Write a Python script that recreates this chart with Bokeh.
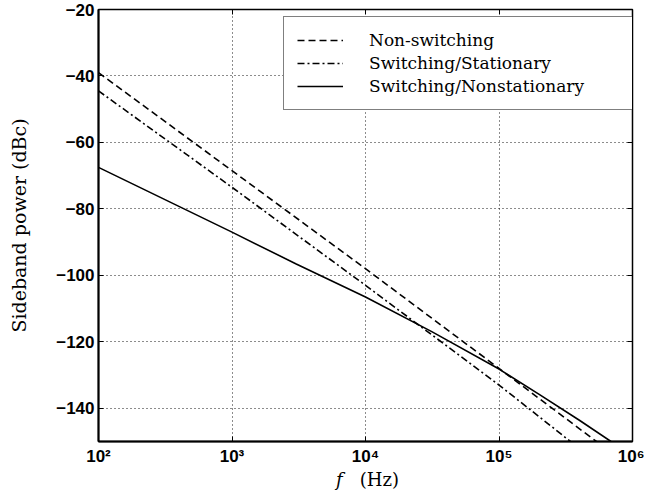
from bokeh.plotting import figure
from bokeh.layouts import column
from bokeh.models import (FixedTicker, LinearAxis, LogAxis, Legend, LegendItem,
                          CustomJSTickFormatter, Range1d, Div)
from bokeh.embed import file_html
from bokeh.resources import INLINE

# ---- data ----
freq_nonswitching = [1e2, 1e3, 1e4, 1e5, 5.37e5]
power_nonswitching = [-39.0, -68.5, -98.0, -128.0, -150.0]

freq_stationary = [1e2, 1e3, 1e4, 1e5, 3.43e5]
power_stationary = [-44.5, -73.5, -103.0, -133.0, -150.0]

freq_nonstationary = [1e2, 1e3, 3e3, 1e4, 3.16e4, 1e5, 2e5, 4e5, 6.9e5]
power_nonstationary = [-67.5, -87.0, -96.5, -106.5, -117.0, -128.2, -135.8, -143.6, -150.0]

x_ticks = [1e2, 1e3, 1e4, 1e5, 1e6]
y_ticks = [-140, -120, -100, -80, -60, -40, -20]

series_labels = ["Non-switching", "Switching/Stationary", "Switching/Nonstationary"]

p = figure(width=644, height=470, x_axis_type="log",
           x_range=Range1d(1e2, 1e6), y_range=Range1d(-150, -20),
           output_backend="svg", toolbar_location=None,
           min_border_left=98, min_border_right=12, min_border_top=9,
           min_border_bottom=29, margin=0)
p.background_fill_color = "white"
p.border_fill_color = "white"
p.outline_line_color = "black"
p.outline_line_width = 1.5

r1 = p.line(freq_nonswitching, power_nonswitching, line_color="black",
            line_width=1.6, line_dash="7 4")
r2 = p.line(freq_stationary, power_stationary, line_color="black",
            line_width=1.6, line_dash="7 3 2 3")
r3 = p.line(freq_nonstationary, power_nonstationary, line_color="black",
            line_width=1.6)

sup_js = """
const sup = {"0":"\u2070","1":"\u00b9","2":"\u00b2","3":"\u00b3","4":"\u2074",
             "5":"\u2075","6":"\u2076","7":"\u2077","8":"\u2078","9":"\u2079"};
const e = Math.round(Math.log10(tick));
return "10" + String(e).split("").map(c => sup[c]).join("");
"""

xa = p.xaxis[0]
xa.ticker = FixedTicker(ticks=x_ticks)
xa.formatter = CustomJSTickFormatter(code=sup_js)
ya = p.yaxis[0]
ya.ticker = FixedTicker(ticks=y_ticks)

for ax in (xa, ya):
    ax.major_tick_in = 5
    ax.major_tick_out = 0
    ax.minor_tick_line_color = None
    ax.axis_line_width = 2
    ax.axis_line_color = "black"
    ax.major_tick_line_color = "black"
    ax.major_label_text_font = "Liberation Sans"
    ax.major_label_text_font_style = "bold"
    ax.major_label_text_font_size = "17px"
    ax.major_label_text_color = "black"

ya.major_label_standoff = 4
xa.major_label_standoff = 5
ya.axis_label = "Sideband power (dBc)"
ya.axis_label_text_font = "DejaVu Serif"
ya.axis_label_text_font_style = "normal"
ya.axis_label_text_font_size = "19px"
ya.axis_label_text_color = "black"
ya.axis_label_standoff = 23

# box ticks on top and right
top = LogAxis(ticker=FixedTicker(ticks=x_ticks), formatter=CustomJSTickFormatter(code="return '';"),
              major_tick_in=5, major_tick_out=0, minor_tick_line_color=None,
              axis_line_color=None, major_label_standoff=0,
              major_label_text_font_size="0px")
right = LinearAxis(ticker=FixedTicker(ticks=y_ticks), formatter=CustomJSTickFormatter(code="return '';"),
                   major_tick_in=5, major_tick_out=0, minor_tick_line_color=None,
                   axis_line_color=None, major_label_standoff=0,
                   major_label_text_font_size="0px")
p.add_layout(top, "above")
p.add_layout(right, "right")

for g, t in ((p.xgrid[0], x_ticks), (p.ygrid[0], y_ticks)):
    g.ticker = FixedTicker(ticks=t)
    g.grid_line_color = "black"
    g.grid_line_dash = "1 3"
    g.grid_line_width = 1
    g.grid_line_alpha = 0.9

legend = Legend(items=[LegendItem(label=series_labels[0], renderers=[r1]),
                       LegendItem(label=series_labels[1], renderers=[r2]),
                       LegendItem(label=series_labels[2], renderers=[r3])],
                location=(185, 331), margin=0, padding=13, spacing=3,
                label_height=20, glyph_height=20, glyph_width=46,
                label_standoff=26, label_width=251,
                label_text_font="DejaVu Serif", label_text_font_size="17px",
                label_text_color="black",
                border_line_color="black", border_line_width=1.5,
                background_fill_color="white", background_fill_alpha=1.0)
p.add_layout(legend)

# x-axis label: italic f + (Hz)
xlabel = Div(text="<i>f</i>&nbsp;&nbsp;&nbsp;(Hz)", width=644, height=24, margin=0,
             styles={"font-family": "DejaVu Serif", "font-size": "18px",
                     "line-height": "18px", "padding-left": "336px",
                     "padding-top": "1px", "color": "black",
                     "background-color": "white"})

layout = column(p, xlabel, spacing=0)

open("out.html", "w").write(file_html(layout, INLINE))
